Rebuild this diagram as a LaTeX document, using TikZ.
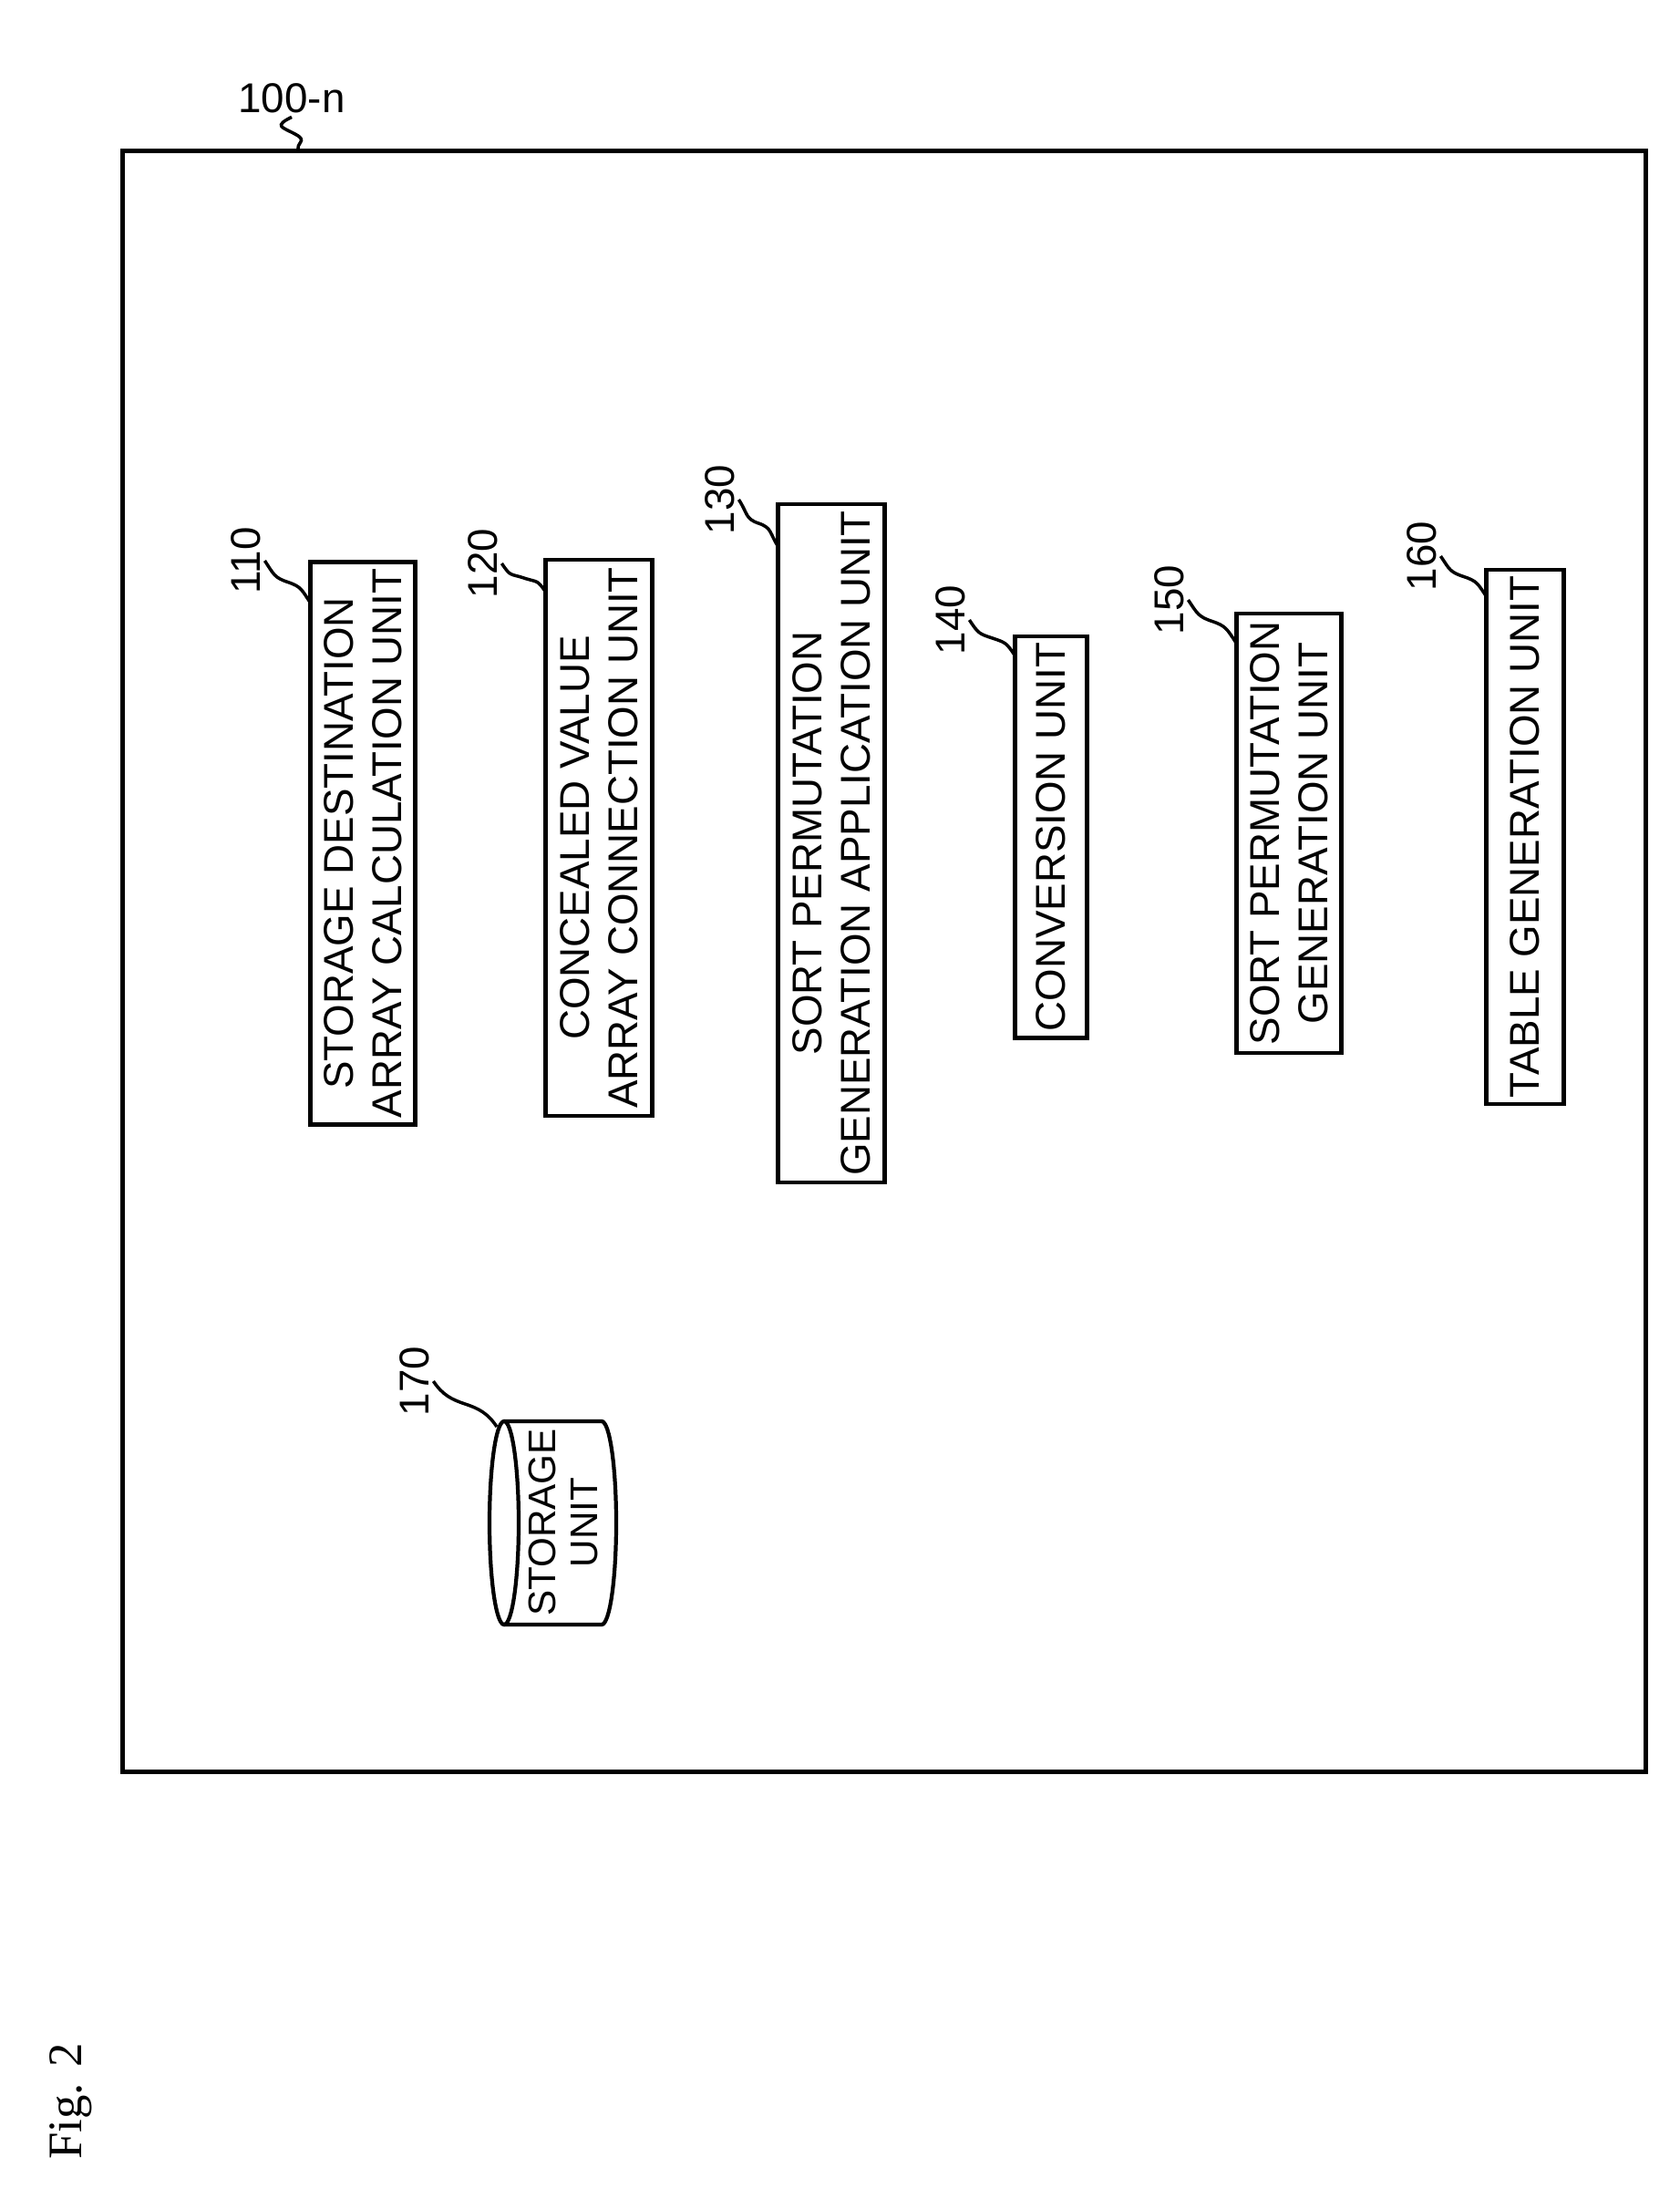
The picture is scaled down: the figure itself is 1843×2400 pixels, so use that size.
\documentclass[tikz,border=0pt]{standalone}
\usepackage{fontspec}
\setmainfont{Liberation Sans}
\usetikzlibrary{calc}
\begin{document}
\begin{tikzpicture}[x=0.01cm,y=0.01cm,
 unitbox/.style={draw,line width=1.2pt,rotate=90,align=center,font=\fontsize{13}{15}\selectfont,inner sep=2pt},
 reflbl/.style={rotate=90,font=\fontsize{13}{15}\selectfont,inner sep=1pt},
 sq/.style={line width=1pt}]
\useasboundingbox (0,0) rectangle (1843,-2400);
\node[draw,line width=1.5pt,minimum width=16.70cm,minimum height=17.77cm,inner sep=0] (frame) at (970,-1054.5) {};
\node[font=\fontsize{13}{15}\selectfont,inner sep=1pt] (lf) at (320,-108) {100-n};
\coordinate (tf) at (328,-166);
\draw[sq] (lf.south) .. controls +(-20,-10) and +(-15,8) .. ($(lf.south)!0.5!(tf)$) .. controls +(15,-8) and +(-5,10) .. (tf);
\node[unitbox,minimum width=5.97cm,minimum height=1.15cm] (b110) at (398,-925) {STORAGE DESTINATION\\ARRAY CALCULATION UNIT};
\node[unitbox,minimum width=6.10cm,minimum height=1.17cm] (b120) at (657,-919) {CONCEALED VALUE\\ARRAY CONNECTION UNIT};
\node[unitbox,minimum width=7.15cm,minimum height=1.17cm] (b130) at (912,-925) {SORT PERMUTATION\\GENERATION APPLICATION UNIT};
\node[unitbox,minimum width=4.38cm,minimum height=0.79cm] (b140) at (1153,-918) {CONVERSION UNIT};
\node[unitbox,minimum width=4.82cm,minimum height=1.15cm] (b150) at (1414,-914) {SORT PERMUTATION\\GENERATION UNIT};
\node[unitbox,minimum width=5.82cm,minimum height=0.85cm] (b160) at (1673,-918) {TABLE GENERATION UNIT};
\node[reflbl] (l110) at (270,-615) {110};
\node[reflbl] (l120) at (530,-618) {120};
\node[reflbl] (l130) at (790,-548) {130};
\node[reflbl] (l140) at (1043,-680) {140};
\node[reflbl] (l150) at (1283,-658) {150};
\node[reflbl] (l160) at (1560,-610) {160};
\node[reflbl] (l170) at (455,-1515) {170};
\coordinate (t110) at (341,-662); \coordinate (t120) at (599,-650);
\coordinate (t130) at (854,-600); \coordinate (t140) at (1114,-720);
\coordinate (t150) at (1356,-705); \coordinate (t160) at (1631,-655);
\coordinate (t170) at (545,-1565);
\foreach \n in {110,120,130,140,150,160,170}{
 \draw[sq] (l\n.south) .. controls +(10,-15) and +(-15,5) .. ($(l\n.south)!0.5!(t\n)$) .. controls +(15,-5) and +(-10,15) .. (t\n);}
% storage cylinder (axis horizontal)
\draw[line width=1.2pt] (553,-1559) -- (660,-1559) arc[start angle=90,end angle=-90,x radius=16,y radius=111.5] -- (553,-1782);
\draw[line width=1.2pt] (553,-1670.5) ellipse[x radius=16,y radius=111.5];
\node[rotate=90,align=center,font=\fontsize{12}{13}\selectfont,inner sep=0] (stor) at (618,-1670) {STORAGE\\UNIT};
\node[rotate=90,font=\fontsize{15}{17}\selectfont,inner sep=0] (fig) at (78,-2305) {\fontspec{Liberation Serif}Fig. 2};
\end{tikzpicture}
\end{document}
